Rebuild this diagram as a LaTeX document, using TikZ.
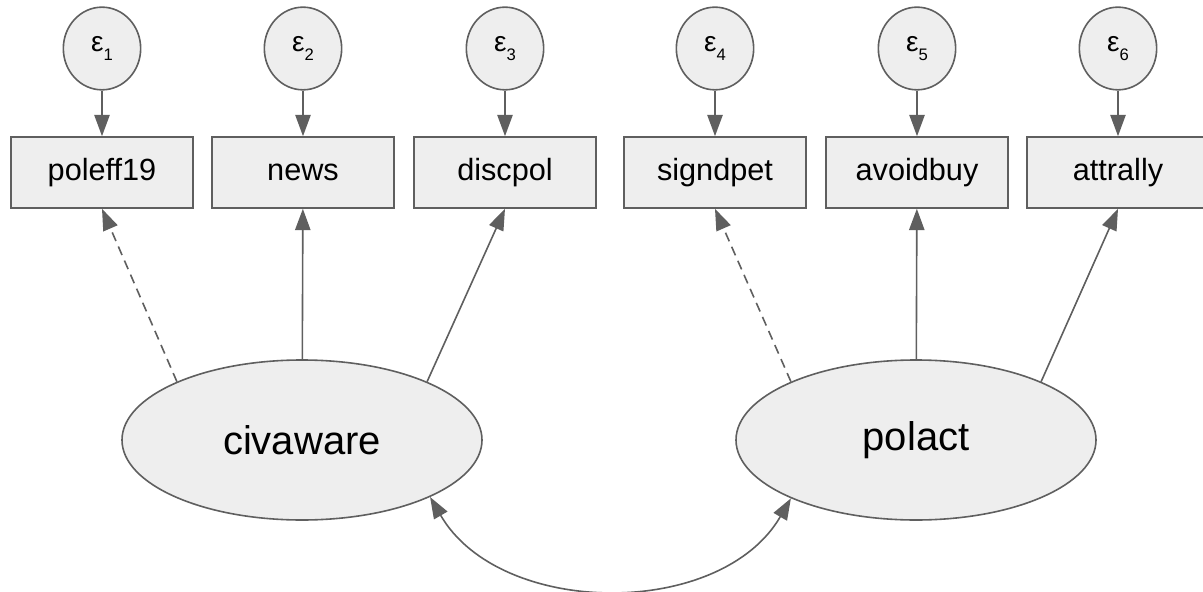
\documentclass[tikz,border=0pt]{standalone}
\usepackage{fontspec}
\setmainfont{Liberation Sans}
\usetikzlibrary{arrows.meta,shapes.geometric}
\definecolor{semline}{HTML}{5F5F5F}
\definecolor{semfill}{HTML}{EEEEEE}
\newcommand\errlab[1]{{\fontsize{21}{21}\selectfont ε}\raisebox{-6.5pt}{\fontsize{12.5}{12.5}\selectfont #1}}
\tikzset{
  obsbox/.style={rectangle,draw=semline,fill=semfill,line width=1.2pt,
    minimum width=136.5pt,minimum height=53.25pt,font=\fontsize{23}{23}\selectfont},
  errcirc/.style={ellipse,draw=semline,fill=semfill,line width=1.2pt,
    minimum width=58pt,minimum height=62pt,inner sep=0pt},
  latent/.style={ellipse,draw=semline,fill=semfill,line width=1.2pt,
    minimum width=270pt,minimum height=120pt,font=\fontsize{30}{30}\selectfont},
  semarrow/.style={draw=semline,line width=1.2pt,-{Triangle[length=16pt,width=11.5pt]}},
  covarrow/.style={draw=semline,line width=1.2pt,
    {Triangle[length=16pt,width=11.5pt]}-{Triangle[length=16pt,width=11.5pt]}},
  fixdash/.style={dash pattern=on 7pt off 4.5pt}
}
\begin{document}
\begin{tikzpicture}[x=0.75pt,y=-0.75pt]
\useasboundingbox (0,0) rectangle (1203,592);
% errors and indicators
\foreach \x/\obs [count=\i] in {102/poleff19,303/news,505/discpol,715/signdpet,917/avoidbuy,1118/attrally} {
    \node[errcirc] (e\i) at (\x,48.5) {\errlab{\i}};
    \node[obsbox] (\obs) at (\x,172.5) {\obs};
    \draw[semarrow] (e\i) -- (\obs);
}
% latent variables
\node[latent] (civaware) at (302,440) {civaware};
\node[latent] (polact) at (916,440) {polact};
% loadings
\draw[semarrow,fixdash] (civaware.155) -- (poleff19.south);
\draw[semarrow] (civaware) -- (news);
\draw[semarrow] (civaware.25) -- (discpol.south);
\draw[semarrow,fixdash] (polact.155) -- (signdpet.south);
\draw[semarrow] (polact) -- (avoidbuy);
\draw[semarrow] (polact.25) -- (attrally.south);
% covariance
\draw[covarrow] (civaware.-24) .. controls +(70,121) and +(-70,121) .. (polact.205);
\end{tikzpicture}
\end{document}
